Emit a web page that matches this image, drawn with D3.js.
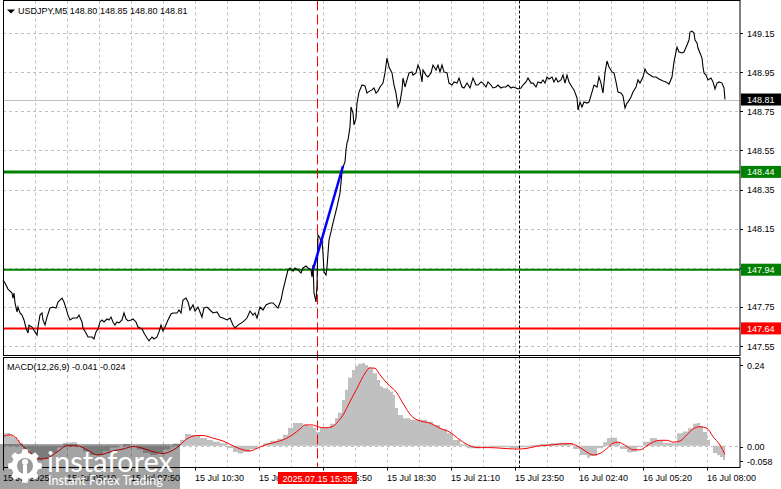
<!DOCTYPE html>
<html><head><meta charset="utf-8">
<script src="https://cdn.jsdelivr.net/npm/d3@7"></script>
<style>
body{margin:0;background:#fff}
svg{display:block}
text{font-family:"Liberation Sans",Arial,sans-serif;font-size:9px;fill:#000}
</style>
</head><body>
<svg id="chart" width="781" height="489"></svg>
<script>
// ---------------- DATA ----------------
const symbolHeader = "USDJPY,M5  148.80 148.85 148.80 148.81";
const macdHeader = "MACD(12,26,9) -0.041 -0.024";
const priceTicks = [149.15,148.95,148.75,148.55,148.35,148.15,147.95,147.75,147.55];
const priceTickLabels = ["149.15","148.95","148.75","148.55","148.35","148.15","","147.75","147.55"]; // 147.95 hidden by level box
const macdTicks = [0.24, 0.00, -0.058];
const macdTickLabels = ["0.24","0.00","-0.058"];
const timeLabelBars = [0,32,64,96,128,160,192,224,256,288,320,352];
const timeLabels = ["15 Jul 2025","15 Jul 05:10","15 Jul 07:50","15 Jul 10:30","15 Jul 13:10","15 Jul 15:50",
  "15 Jul 18:30","15 Jul 21:10","15 Jul 23:50","16 Jul 02:40","16 Jul 05:20","16 Jul 08:00"];
const lastPrice = 148.81;
const levelUpper = 148.44;   // target level
const levelEntry = 147.94;   // entry level
const levelLower = 147.64;   // lower level
const markerBar = 157;       // 2025.07.15 15:35
const markerLabel = "2025.07.15 15:35";
const daySeparatorBar = 258; // 16 Jul 00:00
const trendBars = [155, 170];
const trendPrices = [147.94, 148.47];

// close prices: [bar index, close]
const closes = [[0,147.887],[1,147.872],[2.5,147.841],[4.5,147.821],[5,147.795],[5.5,147.821],[6,147.770],[7,147.724],[7.5,147.749],[8.5,147.719],[9.5,147.708],[10.5,147.683],[11.5,147.642],[12.5,147.616],[13,147.657],[14.5,147.647],[16,147.622],[17,147.606],[17.5,147.647],[18.5,147.708],[19.5,147.719],[20,147.683],[21,147.657],[22,147.698],[23.5,147.744],[25,147.749],[26.5,147.744],[27.5,147.775],[29.5,147.795],[30.5,147.775],[31.5,147.744],[32.5,147.708],[33.5,147.683],[35,147.693],[37,147.693],[38,147.708],[39.5,147.673],[40,147.642],[41.5,147.616],[42.5,147.596],[44.5,147.596],[45.5,147.586],[46.5,147.622],[47.5,147.637],[48.5,147.673],[49.5,147.683],[50.5,147.673],[52,147.688],[53,147.683],[54,147.698],[55,147.673],[56,147.657],[57,147.673],[58,147.668],[59.5,147.683],[60.5,147.719],[61.5,147.688],[62.5,147.678],[64,147.683],[65,147.688],[66.5,147.673],[67.5,147.647],[69.5,147.637],[70.5,147.616],[72,147.591],[73,147.576],[74.5,147.596],[75.5,147.586],[77,147.596],[78,147.622],[79,147.657],[80,147.627],[81,147.647],[82.5,147.683],[84,147.714],[85,147.719],[87,147.719],[88,147.734],[89,147.719],[90,147.785],[91.5,147.795],[92.5,147.775],[93.5,147.734],[95,147.760],[96,147.729],[97.5,147.749],[99.5,147.698],[100.5,147.744],[102,147.749],[103.5,147.734],[105,147.719],[107,147.724],[108.5,147.698],[110,147.693],[112,147.683],[113.5,147.693],[115,147.657],[116,147.642],[117.5,147.657],[120,147.673],[122,147.693],[123.5,147.729],[125,147.708],[126,147.719],[127,147.693],[128.5,147.749],[130,147.734],[131.5,147.760],[133.5,147.770],[135,147.770],[137,147.749],[137.5,147.744],[139,147.785],[140,147.836],[141.5,147.898],[142.5,147.939],[143.5,147.949],[145,147.933],[146,147.949],[147.5,147.939],[149,147.923],[150,147.949],[151.5,147.959],[152.5,147.949],[154,147.939],[154.5,147.903],[155,147.964],[155.5,147.821],[156.5,147.775],[157,147.862],[157.5,148.117],[158.5,148.102],[159,148.076],[159.5,148.092],[160,148.025],[160.5,147.928],[161.5,147.913],[162,147.954],[163,148.092],[164,148.133],[165,148.179],[166,148.220],[167,148.261],[168.5,148.332],[169.5,148.439],[170,148.465],[171,148.491],[171.5,148.552],[172,148.588],[172.5,148.603],[173.5,148.669],[174,148.772],[175,148.741],[175.5,148.680],[176.5,148.715],[177,148.792],[178,148.848],[179.5,148.884],[181,148.879],[182,148.843],[182.5,148.848],[184.5,148.859],[185.5,148.869],[186.5,148.843],[187.5,148.853],[188.5,148.874],[190,148.894],[191,148.946],[192,149.022],[193,148.976],[194.5,148.946],[195.5,148.884],[196.5,148.843],[197.5,148.772],[198.5,148.797],[199.5,148.859],[200,148.920],[201,148.874],[202,148.910],[203,148.946],[204.5,148.951],[205,148.935],[206.5,148.946],[207.5,148.986],[208.5,148.961],[209.5,148.900],[210,148.961],[211.5,148.935],[212.5,148.925],[214,148.946],[215,148.986],[216.5,148.961],[217.5,148.986],[218.5,148.951],[219.5,148.986],[220.5,148.951],[222,148.946],[223,148.894],[224.5,148.884],[225.5,148.900],[227,148.894],[228,148.920],[229.5,148.874],[230.5,148.869],[232,148.894],[233.5,148.869],[235,148.920],[236.5,148.884],[237.5,148.884],[239,148.900],[240,148.894],[241.5,148.874],[242.5,148.900],[244,148.884],[245,148.869],[246.5,148.874],[247.5,148.884],[249,148.869],[250,148.874],[251.5,148.874],[252.5,148.884],[254,148.869],[255,148.874],[256.5,148.869],[257.5,148.864],[259,148.869],[260,148.884],[261.5,148.900],[262.5,148.920],[264,148.894],[265,148.894],[266.5,148.874],[267.5,148.900],[269,148.894],[270,148.910],[271,148.894],[272,148.925],[273,148.915],[274.5,148.925],[275.5,148.900],[276.5,148.920],[277.5,148.900],[279,148.910],[280,148.935],[281,148.894],[282,148.935],[283,148.900],[284.5,148.874],[285.5,148.859],[287,148.818],[287.5,148.756],[288.5,148.797],[289.5,148.772],[290.5,148.797],[292,148.792],[293,148.797],[294.5,148.848],[295.5,148.884],[297,148.874],[298,148.925],[299,148.894],[300,148.843],[301,148.946],[302,149.007],[303,148.976],[304.5,148.951],[305.5,148.946],[306.5,148.900],[307.5,148.848],[309,148.843],[310,148.828],[311,148.767],[312,148.792],[312.5,148.797],[314,148.823],[315,148.848],[316.5,148.874],[317.5,148.910],[318.5,148.894],[320,148.925],[321,148.966],[322,148.946],[323.5,148.935],[325,148.925],[326.5,148.925],[328,148.915],[330,148.905],[331.5,148.900],[333,148.889],[334.5,148.925],[335.5,149.002],[337,149.078],[338,149.053],[339.5,149.048],[340.5,149.053],[342,149.089],[343,149.114],[343.5,149.155],[344.5,149.160],[345.5,149.150],[346,149.114],[347,149.099],[347.5,149.073],[348.5,149.048],[349.5,149.022],[350,148.976],[350.5,148.946],[351.5,148.935],[352.5,148.910],[354,148.920],[355,148.900],[356,148.864],[357,148.894],[358,148.900],[359.5,148.894],[360.5,148.869],[361,148.810]];

// MACD main (histogram): [bar, value]
const macdMain = [[0,0.034],[2,0.035],[3.5,0.030],[5,0.024],[7,0.016],[8.5,0.008],[10,-0.010],[13.5,-0.030],[17,-0.040],[20,-0.035],[23.5,-0.020],[27,-0.005],[30,0.008],[33.5,0.010],[37,0.000],[40,-0.015],[43.5,-0.025],[47,-0.025],[50,-0.015],[53.5,-0.005],[57,0.000],[60,0.005],[63.5,0.000],[67,-0.010],[70,-0.020],[73.5,-0.025],[77,-0.020],[80,-0.010],[83.5,0.000],[85,0.006],[88.5,0.016],[91,0.032],[93.5,0.030],[96,0.027],[98.5,0.021],[102,0.016],[105,0.011],[108.5,0.007],[112,-0.006],[115,-0.017],[117.5,-0.021],[120,-0.017],[123.5,-0.009],[127,-0.001],[130,0.007],[133.5,0.014],[137,0.019],[140,0.030],[142.5,0.049],[145,0.062],[147.5,0.062],[150,0.057],[152.5,0.054],[155,0.049],[156.5,0.038],[158.5,0.049],[161,0.051],[163.5,0.060],[166,0.076],[167.5,0.090],[169.5,0.125],[171,0.153],[172.5,0.186],[174.5,0.207],[176,0.218],[177.5,0.224],[179.5,0.226],[181,0.221],[182.5,0.215],[183.5,0.212],[185,0.198],[187,0.180],[188.5,0.162],[190,0.157],[192,0.153],[193.5,0.148],[195,0.139],[196,0.103],[197.5,0.084],[200,0.075],[203.5,0.071],[208.5,0.071],[212,0.066],[215,0.057],[218.5,0.046],[222,0.034],[225,0.016],[228.5,0.004],[232,-0.007],[235,-0.007],[238.5,-0.002],[243.5,-0.005],[248.5,-0.004],[253.5,-0.006],[258.5,-0.004],[263.5,0.002],[268.5,0.005],[273.5,0.007],[278.5,0.008],[282,0.007],[285,-0.009],[288.5,-0.025],[292,-0.033],[293.5,-0.028],[297,-0.007],[300,0.010],[302,0.021],[304.5,0.022],[307,0.008],[308.5,-0.009],[312,-0.018],[315,-0.016],[317,-0.003],[320,0.011],[323.5,0.021],[327,0.016],[330,0.008],[333.5,0.007],[337,0.034],[340,0.039],[342.5,0.048],[345,0.060],[347,0.062],[348.5,0.054],[350,0.038],[352,0.016],[353.5,0.000],[355,-0.020],[357,-0.025],[358.5,-0.031],[360,-0.039],[361,-0.041]];

// MACD signal: [bar, value]
const macdSignal = [[0,0.025],[3.5,0.030],[6,0.025],[8.5,0.007],[12,-0.011],[15,-0.025],[18.5,-0.036],[22,-0.034],[25,-0.025],[28.5,-0.011],[32,0.000],[37,0.000],[42,-0.011],[47,-0.025],[50,-0.023],[55,-0.014],[60,-0.009],[65,-0.002],[70,-0.007],[75,-0.016],[80,-0.021],[83.5,-0.016],[87,-0.005],[92,0.019],[97,0.028],[100,0.028],[105,0.021],[110,0.013],[115,0.000],[120,-0.011],[123.5,-0.014],[127,-0.007],[132,0.004],[137,0.011],[142,0.021],[145,0.031],[148.5,0.046],[151,0.057],[154.5,0.057],[157.5,0.052],[161,0.049],[164.5,0.052],[167.5,0.066],[170,0.084],[173.5,0.121],[177,0.157],[180,0.189],[183.5,0.213],[186,0.212],[188.5,0.194],[192,0.171],[197,0.144],[200,0.116],[204.5,0.080],[208.5,0.068],[213.5,0.062],[218.5,0.048],[223.5,0.037],[228.5,0.016],[233.5,0.000],[237,-0.005],[243.5,-0.005],[250,-0.007],[257,-0.009],[262,-0.007],[267,-0.001],[273.5,0.002],[278.5,0.005],[283.5,0.006],[287,0.000],[291,-0.014],[295,-0.025],[298.5,-0.021],[302,-0.007],[305,0.007],[307.5,0.010],[312,-0.002],[315,-0.011],[318.5,-0.011],[322,0.000],[325,0.010],[328.5,0.015],[332,0.015],[335,0.010],[338.5,0.013],[342,0.030],[345,0.046],[348.5,0.052],[352,0.048],[355,0.025],[358.5,0.002],[361,-0.024]];

// ---------------- LAYOUT ----------------
const svg = d3.select("#chart");
const L = 3, R = 740;
const pTop = 0.5, pBot = 355.5, mTop = 357.5, mBot = 467.5;
const x = d3.scaleLinear().domain([0, 16]).range([3, 35]);      // 2px per bar
const y = d3.scaleLinear().domain([147.55, 149.15]).range([346, 33]);
const ym = d3.scaleLinear().domain([-0.058, 0.24]).range([467, 358]);
const GRID = "#c0c0c0";

svg.append("rect").attr("width",781).attr("height",489).attr("fill","#fff");

// vertical grid lines (every 16 bars) in both panels
const gridBars = d3.range(16, 362, 16);
[[pTop,pBot],[mTop,mBot]].forEach(([a,b])=>{
  svg.append("g").selectAll("line").data(gridBars).join("line")
    .attr("x1",d=>Math.round(x(d))+0.5).attr("x2",d=>Math.round(x(d))+0.5)
    .attr("y1",a).attr("y2",b)
    .attr("stroke",GRID).attr("stroke-dasharray","3,3");
});
// horizontal grid (price)
svg.append("g").selectAll("line").data(priceTicks).join("line")
  .attr("x1",L).attr("x2",R).attr("y1",d=>Math.round(y(d))+0.5).attr("y2",d=>Math.round(y(d))+0.5)
  .attr("stroke",GRID).attr("stroke-dasharray","3,3");
// MACD zero line
svg.append("line").attr("x1",L).attr("x2",R)
  .attr("y1",Math.round(ym(0))+0.5).attr("y2",Math.round(ym(0))+0.5)
  .attr("stroke",GRID).attr("stroke-dasharray","3,3");

// current price line
svg.append("line").attr("x1",L).attr("x2",R)
  .attr("y1",Math.round(y(lastPrice))+0.5).attr("y2",Math.round(y(lastPrice))+0.5)
  .attr("stroke","#c0c0c0");

// MACD histogram
svg.append("path").datum(macdMain)
  .attr("d", d3.area().x(d=>x(d[0])).y0(ym(0)).y1(d=>ym(d[1])).curve(d3.curveStepAfter))
  .attr("fill","#c0c0c0");
// MACD signal
svg.append("path").datum(macdSignal)
  .attr("d", d3.line().x(d=>x(d[0])).y(d=>ym(d[1])).curve(d3.curveMonotoneX))
  .attr("fill","none").attr("stroke","#ff0000").attr("stroke-width",1);

// day separator
svg.append("line").attr("x1",Math.round(x(daySeparatorBar))+0.5).attr("x2",Math.round(x(daySeparatorBar))+0.5)
  .attr("y1",pTop).attr("y2",mBot).attr("stroke","#000").attr("stroke-dasharray","3,2");

// horizontal levels
const levelStyle = [[levelUpper,"#008000",3],[levelEntry,"#008000",2],[levelLower,"#ff0000",2]];
svg.append("g").selectAll("line").data(levelStyle).join("line")
  .attr("x1",L).attr("x2",R).attr("y1",d=>y(d[0])).attr("y2",d=>y(d[0]))
  .attr("stroke",d=>d[1]).attr("stroke-width",d=>d[2]);

// marker vertical red dashed
svg.append("line").attr("x1",Math.round(x(markerBar))+0.5).attr("x2",Math.round(x(markerBar))+0.5)
  .attr("y1",pTop).attr("y2",mBot).attr("stroke","#ff0000").attr("stroke-dasharray","10,4");

// price line
svg.append("path").datum(closes)
  .attr("d", d3.line().x(d=>x(d[0])).y(d=>y(d[1])))
  .attr("fill","none").attr("stroke","#000").attr("stroke-width",1.1);

// trend line (blue)
svg.append("path").datum(d3.zip(trendBars, trendPrices))
  .attr("d", d3.line().x(d=>x(d[0])).y(d=>y(d[1])))
  .attr("stroke","#0000ff").attr("stroke-width",2.5);

// frames
svg.append("rect").attr("x",L+0.5).attr("y",pTop).attr("width",R-L-0.5).attr("height",pBot-pTop)
  .attr("fill","none").attr("stroke","#000");
svg.append("rect").attr("x",L+0.5).attr("y",mTop).attr("width",R-L-0.5).attr("height",mBot-mTop)
  .attr("fill","none").attr("stroke","#000");

// right axis ticks and labels (price)
const ax = svg.append("g");
ax.selectAll("line").data(priceTicks).join("line")
  .attr("x1",R).attr("x2",R+3).attr("y1",d=>Math.round(y(d))+0.5).attr("y2",d=>Math.round(y(d))+0.5).attr("stroke","#000");
ax.selectAll("text").data(priceTicks.filter((d,i)=>priceTickLabels[i]!=="")).join("text")
  .attr("x",747).attr("y",d=>y(d)+3.5).text(d=>priceTickLabels[priceTicks.indexOf(d)]);

// MACD axis
const mx = svg.append("g");
const macdLabelOffsets = [7, 1, -6];
mx.selectAll("text").data(macdTicks).join("text")
  .attr("x",747).attr("y",(d,i)=>ym(d)+macdLabelOffsets[i]+3.5).text((d,i)=>macdTickLabels[i]);
mx.selectAll("line").data(macdTicks).join("line")
  .attr("x1",R).attr("x2",R+3).attr("y1",(d,i)=>Math.round(ym(d)+macdLabelOffsets[i])+0.5)
  .attr("y2",(d,i)=>Math.round(ym(d)+macdLabelOffsets[i])+0.5).attr("stroke","#000");

// level price boxes
const boxes = [[lastPrice,"#000000"],[levelUpper,"#008000"],[levelEntry,"#008000"],[levelLower,"#ff0000"]];
const bg = svg.append("g").selectAll("g").data(boxes).join("g");
bg.append("rect").attr("x",741).attr("y",d=>y(d[0])-6).attr("width",40).attr("height",12).attr("fill",d=>d[1]);
bg.append("text").attr("x",747).attr("y",d=>y(d[0])+3.5).style("fill","#fff").text(d=>d3.format(".2f")(d[0]));

// time axis
const tg = svg.append("g");
tg.selectAll("line").data(timeLabelBars).join("line")
  .attr("x1",d=>Math.round(x(d))+0.5).attr("x2",d=>Math.round(x(d))+0.5).attr("y1",mBot).attr("y2",mBot+3).attr("stroke","#000");
tg.selectAll("text").data(timeLabelBars).join("text")
  .attr("x",d=>x(d)).attr("y",481).text((d,i)=>timeLabels[i]);

// marker time label
const mxp = x(markerBar);
svg.append("rect").attr("x",mxp-39).attr("y",472).attr("width",79).attr("height",12).attr("fill","#ff0000");
svg.append("text").attr("x",mxp+0.5).attr("y",481.5).attr("text-anchor","middle").style("fill","#fff").text(markerLabel);

// headers
svg.append("path").attr("d","M7,9.5 L15,9.5 L11,13.5 Z").attr("fill","#000");
svg.append("text").attr("x",18).attr("y",14).text(symbolHeader);
svg.append("text").attr("x",7).attr("y",369.5).text(macdHeader);

// watermark logo
const logo = svg.append("g");
logo.append("rect").attr("x",0).attr("y",444).attr("width",180).attr("height",45).attr("fill","#000").attr("opacity",0.36);
const cx = 25, cy = 466, rOut = 17, rIn = 13.5, nT = 8;
const gearPts = [];
d3.range(nT).forEach(k=>{
  const a0 = k*2*Math.PI/nT;
  const w = Math.PI/nT*0.55;
  [[a0-w*1.1,rIn],[a0-w*0.7,rOut],[a0+w*0.7,rOut],[a0+w*1.1,rIn]].forEach(([a,r])=>gearPts.push([cx+r*Math.sin(a), cy-r*Math.cos(a)]));
});
logo.append("path").attr("d", d3.line()(gearPts)+"Z").attr("fill","#fff");
logo.append("circle").attr("cx",cx).attr("cy",cy).attr("r",8).attr("fill","#9a9a9a");
logo.append("circle").attr("cx",cx).attr("cy",cy-4).attr("r",3).attr("fill","#fff");
logo.append("rect").attr("x",cx-2).attr("y",cy-1).attr("width",4).attr("height",13).attr("fill","#fff");
logo.append("text").attr("x",47).attr("y",472).style("font-family","Lato, 'Open Sans', sans-serif")
  .style("font-size","29px").style("fill","#fff").text("instaforex");
logo.append("text").attr("x",48).attr("y",485).style("font-family","Lato, 'Open Sans', sans-serif")
  .style("font-size","12.5px").style("fill","#fff").text("Instant Forex Trading");
</script>
</body></html>
